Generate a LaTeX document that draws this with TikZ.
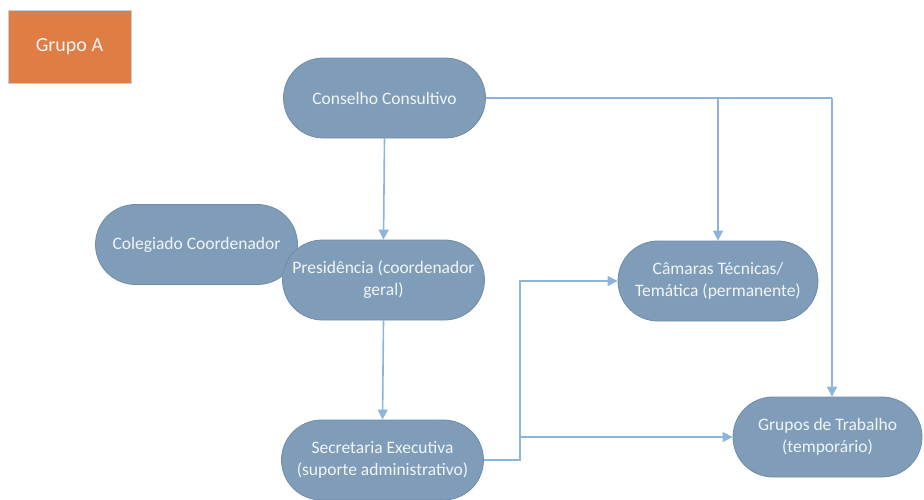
\documentclass[tikz,border=0pt]{standalone}
\usepackage{fontspec}
\setmainfont{Carlito}
\usetikzlibrary{shapes.misc,arrows.meta}
\definecolor{nodefill}{HTML}{7F9DB8}
\definecolor{nodeedge}{HTML}{6F8CA8}
\definecolor{linkblue}{HTML}{8DB4DA}
\definecolor{tagorange}{HTML}{DE7D44}
\definecolor{tagedge}{HTML}{C9CCD0}
\definecolor{labeltext}{HTML}{F2F5F8}
\begin{document}
\begin{tikzpicture}[x=1pt,y=-1pt,
  unit/.style={rounded rectangle, fill=nodefill, draw=nodeedge, line width=0.8pt,
    minimum width=202pt, minimum height=80pt, inner sep=0pt, text=labeltext,
    font=\fontsize{17.5}{22}\selectfont, align=center},
  tag/.style={rectangle, fill=tagorange, draw=tagedge, line width=0.8pt,
    minimum width=123pt, minimum height=73pt, text=labeltext,
    font=\fontsize{20}{24}\selectfont},
  link/.style={draw=linkblue, line width=1.6pt, -{Triangle[length=10pt,width=10pt]}},
  plain/.style={draw=linkblue, line width=1.6pt}
]
\useasboundingbox (0,0) rectangle (924,499);

% legend tag
\node[tag] (grupo) at (69.5,46.5) {Grupo A};

% units
\node[unit] (col) at (196.5,244.5) {Colegiado Coordenador};
\node[unit] (cons) at (384.5,98) {Conselho Consultivo};
\node[unit] (pres) at (383.5,280) {Presidência (coordenador\\geral)};
\node[unit] (sec) at (382.5,460) {Secretaria Executiva\\(suporte administrativo)};
\node[unit, minimum width=200pt] (cam) at (718,281) {Câmaras Técnicas/\\Temática (permanente)};
\node[unit, minimum width=189pt] (grp) at (827.5,437) {Grupos de Trabalho\\(temporário)};

% vertical chain
\draw[link] (cons.south) -- (pres.north);
\draw[link] (pres.south) -- (sec.north);

% advisory council to chambers and working groups
\coordinate (cright) at (832,98);
\coordinate (cjoin) at (cam.north |- cons.east);
\draw[plain] (cons.east) -- (cright);
\draw[link] (cright) -- (cright |- grp.north);
\draw[link] (cjoin) -- (cam.north);

% secretariat support lines
\coordinate (sbend) at (520,460);
\draw[link] (sec.east) -- (sbend) |- (cam.west);
\draw[link] (sbend |- grp.west) -- (grp.west);
\end{tikzpicture}
\end{document}
